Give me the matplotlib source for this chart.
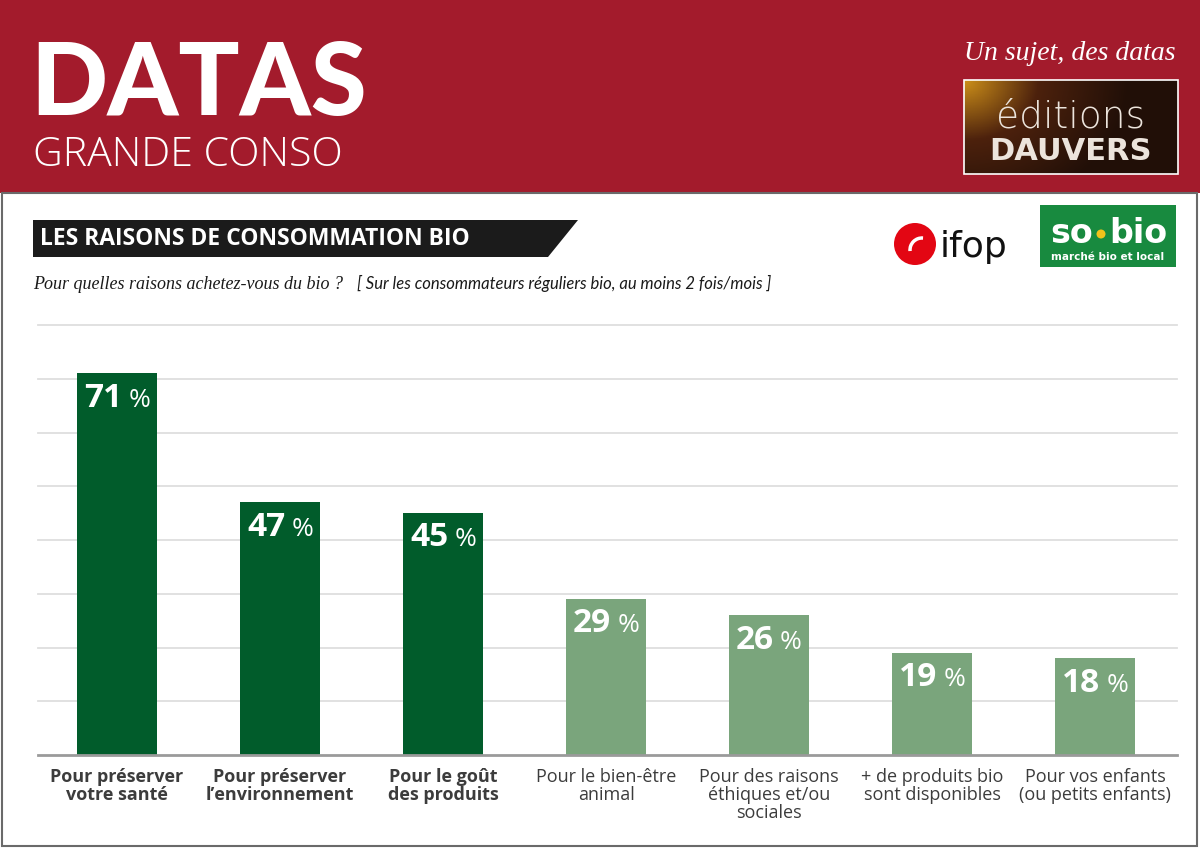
import numpy as np
import matplotlib.pyplot as plt
from matplotlib.patches import Rectangle, Polygon, Circle, Arc

# data
categories = ["Pour préserver\nvotre santé", "Pour préserver\nl’environnement",
              "Pour le goût\ndes produits", "Pour le bien-être\nanimal",
              "Pour des raisons\néthiques et/ou\nsociales",
              "+ de produits bio\nsont disponibles", "Pour vos enfants\n(ou petits enfants)"]
values = [71, 47, 45, 29, 26, 19, 18]
highlight = [True, True, True, False, False, False, False]
grid_levels = [10, 20, 30, 40, 50, 60, 70, 80]

RED = '#a31b2c'
DARK_GREEN = '#015c2b'
LIGHT_GREEN = '#7aa57c'
LABEL_GRAY = '#3c3c3c'

fig = plt.figure(figsize=(12, 8.48), dpi=100)

# background layer in pixel coordinates
bg = fig.add_axes([0, 0, 1, 1])
bg.axis('off')

# header band
bg.add_patch(Rectangle((0, 0), 1200, 193, color=RED, lw=0))
bg.add_patch(Rectangle((2, 193), 1195, 653, fill=False, ec='#6a6a6a', lw=1.5))

bg.text(30, 115, "DATAS", fontfamily='Lato', fontweight='black', fontsize=73,
        color='white', va='baseline', ha='left')
bg.text(33, 166, "GRANDE CONSO", fontfamily='Open Sans', fontweight='light', fontsize=29.5,
        color='white', va='baseline', ha='left')
bg.text(1176, 60, "Un sujet, des datas", fontfamily='Liberation Serif', style='italic',
        fontsize=20, color='white', va='baseline', ha='right')

# editions dauvers box
gx, gy = np.meshgrid(np.linspace(0, 1, 120), np.linspace(0, 1, 60))
d = np.clip(np.sqrt((gx * 1.3) ** 2 + (gy * 0.7) ** 2), 0, 1)
gold = np.array([0.80, 0.56, 0.10])
brown = np.array([0.30, 0.13, 0.05])
dark = np.array([0.13, 0.06, 0.03])
t1 = np.clip(d / 0.45, 0, 1)[..., None]
t2 = np.clip((d - 0.45) / 0.55, 0, 1)[..., None]
img = np.where(d[..., None] < 0.45, gold * (1 - t1) + brown * t1, brown * (1 - t2) + dark * t2)
bg.imshow(img, extent=(964, 1178, 174, 80), aspect='auto', zorder=2)
bg.add_patch(Rectangle((964, 80), 214, 94, fill=False, ec='white', lw=1.2, zorder=3))
bg.text(1071, 128, "éditions", fontfamily='DejaVu Sans', fontweight='light', fontsize=27,
        color='#ece4dc', ha='center', va='baseline', zorder=4)
bg.text(1071, 160, "DAUVERS", fontfamily='DejaVu Sans', fontweight='bold', fontsize=22,
        color='#ece4dc', ha='center', va='baseline', zorder=4)

# ifop logo
bg.add_patch(Circle((915, 244), 21, color='#e30613', lw=0))
bg.add_patch(Arc((922, 250), 24, 24, theta1=175, theta2=275, color='white', lw=2.5))
bg.text(940, 257, "ifop", fontfamily='DejaVu Sans', fontsize=26,
        color='#111111', ha='left', va='baseline')

# so.bio logo
bg.add_patch(Rectangle((1040, 205), 136, 62, color='#188a3f', lw=0))
bg.text(1093, 243, "so", fontfamily='DejaVu Sans', fontweight='bold', fontsize=24,
        color='white', ha='right', va='baseline')
bg.add_patch(Circle((1101, 234), 4.5, color='#f2c21b', lw=0))
bg.text(1109, 243, "bio", fontfamily='DejaVu Sans', fontweight='bold', fontsize=24,
        color='white', ha='left', va='baseline')
bg.text(1108, 260, "marché bio et local", fontfamily='DejaVu Sans', fontweight='bold',
        fontsize=7.5, color='white', ha='center', va='baseline')

# title box and subtitle
bg.add_patch(Polygon([(33, 220), (578, 220), (548, 257), (33, 257)], closed=True,
                     color='#1b1b1b', lw=0))
bg.text(40, 239, "LES RAISONS DE CONSOMMATION BIO", fontfamily='Open Sans',
        fontweight='bold', fontsize=16.5, color='white', ha='left', va='center')
bg.text(33, 289, "Pour quelles raisons achetez-vous du bio ?", fontfamily='Liberation Serif',
        style='italic', fontsize=13, color='#1a1a1a', ha='left', va='baseline')
bg.text(357, 289, "[ Sur les consommateurs réguliers bio, au moins 2 fois/mois ]",
        fontfamily='Lato', style='italic', fontsize=12, color='#1a1a1a', ha='left',
        va='baseline')

bg.set_xlim(0, 1200)
bg.set_ylim(848, 0)

# chart
ax = fig.add_axes([38 / 1200, (848 - 755) / 848, (1177 - 38) / 1200, (755 - 325) / 848])
ax.patch.set_alpha(0)
for s in ax.spines.values():
    s.set_visible(False)
ax.set_xticks([])
ax.set_yticks([])
ax.set_ylim(0, 80)
ax.set_xlim(-0.485, 6.503)

for g in grid_levels:
    ax.axhline(g, color='#dedede', lw=1.3, zorder=0, clip_on=False)
ax.axhline(0, color='#9a9a9a', lw=2, zorder=3, clip_on=False)

x = np.arange(len(values))
colors = [DARK_GREEN if h else LIGHT_GREEN for h in highlight]
ax.bar(x, values, width=80 / 163, color=colors, zorder=2)

renderer = fig.canvas.get_renderer()
for i, v in enumerate(values):
    num = ax.annotate(str(v), xy=(i, v), xytext=(0, -24), textcoords='offset points',
                      ha='left', va='baseline', fontfamily='Open Sans', fontweight='bold',
                      fontsize=24, color='white', zorder=4)
    pct = ax.annotate('%', xy=(i, v), xytext=(0, -24), textcoords='offset points',
                      ha='left', va='baseline', fontfamily='Open Sans',
                      fontsize=19, color='white', zorder=4)
    wn = num.get_window_extent(renderer).width
    wp = pct.get_window_extent(renderer).width
    gap = 6
    start = -(wn + gap + wp) / 2
    num.xyann = (start * 0.72, -24)
    pct.xyann = ((start + wn + gap) * 0.72, -24)

for i, lab in enumerate(categories):
    ax.annotate(lab, xy=(i, 0), xytext=(0, -9), textcoords='offset points',
                ha='center', va='top', fontfamily='Open Sans',
                fontweight='bold' if highlight[i] else 'normal',
                fontsize=13, color=LABEL_GRAY, linespacing=1.0)

fig.savefig('out.png', dpi=100)
